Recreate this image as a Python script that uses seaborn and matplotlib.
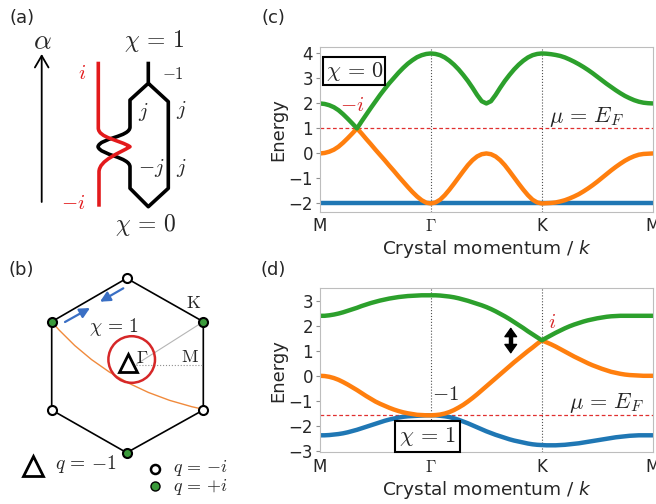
import numpy as np
import pandas as pd
import matplotlib
matplotlib.use("Agg")
import matplotlib.pyplot as plt
import seaborn as sns
from matplotlib.path import Path
from matplotlib.patches import PathPatch, Circle

# ---------------- band-structure data ----------------
k_grid = [i / 24 for i in range(73)]          # momentum path M -> Gamma -> K -> M
k_ticks = [0, 1, 2, 3]
k_tick_labels = ["M", r"$\Gamma$", "K", "M"]

# panel (c): chi = 0
blue_c_k = [0.0, 3.0]
blue_c = [-2.00, -2.00]
orange_c = [0.00, 0.02, 0.07, 0.15, 0.27, 0.43, 0.61, 0.80, 1.00,
            0.80, 0.58, 0.37, 0.15, -0.06, -0.27, -0.49, -0.70, -0.92, -1.13, -1.34, -1.54, -1.72, -1.87, -1.97, -2.00,
            -1.96, -1.85, -1.67, -1.45, -1.21, -0.96, -0.71, -0.47, -0.27, -0.12, -0.03, 0.00,
            -0.03, -0.12, -0.27, -0.47, -0.71, -0.96, -1.21, -1.45, -1.67, -1.85, -1.96, -2.00,
            -1.99, -1.98, -1.96, -1.92, -1.87, -1.80, -1.72, -1.63, -1.52, -1.40, -1.27, -1.13,
            -0.98, -0.83, -0.68, -0.54, -0.41, -0.29, -0.19, -0.11, -0.05, -0.02, -0.01, 0.00]
green_c = [2.00, 1.98, 1.93, 1.85, 1.73, 1.57, 1.39, 1.20, 1.00,
           1.28, 1.55, 1.82, 2.08, 2.34, 2.58, 2.81, 3.02, 3.23, 3.42, 3.59, 3.73, 3.85, 3.93, 3.98, 4.00,
           3.98, 3.93, 3.84, 3.71, 3.55, 3.36, 3.14, 2.90, 2.63, 2.34, 2.09, 2.00,
           2.09, 2.34, 2.63, 2.90, 3.14, 3.36, 3.55, 3.71, 3.84, 3.93, 3.98, 4.00,
           3.99, 3.97, 3.94, 3.90, 3.84, 3.76, 3.67, 3.57, 3.46, 3.34, 3.21, 3.07,
           2.93, 2.79, 2.66, 2.53, 2.41, 2.30, 2.21, 2.13, 2.07, 2.03, 2.01, 2.00]
fermi_c = 1.0

# panel (d): chi = 1
blue_d = [-2.38, -2.38, -2.37, -2.35, -2.33, -2.30, -2.26, -2.21, -2.16, -2.10, -2.04, -1.98, -1.92,
          -1.86, -1.80, -1.75, -1.71, -1.67, -1.64, -1.62, -1.61, -1.60, -1.59, -1.58, -1.58,
          -1.58, -1.60, -1.62, -1.65, -1.70, -1.76, -1.83, -1.90, -1.98, -2.06, -2.14, -2.22,
          -2.29, -2.36, -2.42, -2.48, -2.54, -2.59, -2.63, -2.67, -2.71, -2.74, -2.76, -2.77,
          -2.78, -2.78, -2.78, -2.77, -2.76, -2.74, -2.72, -2.70, -2.67, -2.64, -2.61, -2.58,
          -2.55, -2.52, -2.49, -2.46, -2.44, -2.42, -2.40, -2.39, -2.38, -2.38, -2.38, -2.38]
orange_d = [0.00, -0.01, -0.04, -0.09, -0.16, -0.25, -0.35, -0.46, -0.57, -0.69, -0.81, -0.92, -1.03,
            -1.12, -1.20, -1.28, -1.35, -1.41, -1.46, -1.50, -1.53, -1.56, -1.57, -1.58, -1.58,
            -1.57, -1.55, -1.51, -1.45, -1.37, -1.27, -1.16, -1.03, -0.89, -0.74, -0.58, -0.42,
            -0.26, -0.10, 0.06, 0.22, 0.38, 0.54, 0.69, 0.84, 0.99, 1.13, 1.28, 1.42,
            1.34, 1.26, 1.17, 1.07, 0.97, 0.87, 0.77, 0.68, 0.59, 0.50, 0.42, 0.35,
            0.28, 0.22, 0.16, 0.12, 0.08, 0.05, 0.03, 0.02, 0.01, 0.00, 0.00, 0.00]
green_d = [2.40, 2.40, 2.42, 2.45, 2.49, 2.54, 2.60, 2.66, 2.72, 2.79, 2.85, 2.91, 2.96,
           3.01, 3.05, 3.09, 3.12, 3.15, 3.17, 3.19, 3.20, 3.21, 3.22, 3.22, 3.22,
           3.22, 3.21, 3.19, 3.17, 3.14, 3.10, 3.05, 3.00, 2.94, 2.88, 2.82, 2.75,
           2.67, 2.58, 2.48, 2.38, 2.27, 2.15, 2.03, 1.91, 1.78, 1.66, 1.54, 1.42,
           1.52, 1.62, 1.72, 1.81, 1.90, 1.98, 2.05, 2.11, 2.17, 2.22, 2.26, 2.30,
           2.33, 2.36, 2.38, 2.39, 2.40, 2.40, 2.40, 2.40, 2.40, 2.40, 2.40, 2.40]
fermi_d = -1.58

band_palette = {"lower": "#1f77b4", "middle": "#ff7f0e", "upper": "#2ca02c"}

# ---------------- schematic data for panels (a) and (b), in pixel units ----------------
a_red_verts = [(98.3, 61.7), (98.3, 128.0), (98.3, 138.0), (120.0, 140.0), (130.0, 146.7),
               (120.0, 153.0), (99.0, 160.0), (99.0, 172.0), (99.0, 206.7)]
a_red_codes = [Path.MOVETO, Path.LINETO, Path.CURVE4, Path.CURVE4, Path.CURVE4,
               Path.CURVE4, Path.CURVE4, Path.CURVE4, Path.LINETO]
a_black_verts = [(148.3, 61.7), (148.3, 83.3), (130.0, 100.0), (130.0, 127.0),
                 (130.0, 137.0), (100.0, 138.0), (98.0, 146.7),
                 (100.0, 155.0), (130.0, 157.0), (130.0, 167.0),
                 (130.0, 188.3), (148.3, 206.7), (168.3, 188.3), (168.3, 101.7), (148.3, 83.3)]
a_black_codes = [Path.MOVETO, Path.LINETO, Path.LINETO, Path.LINETO,
                 Path.CURVE4, Path.CURVE4, Path.CURVE4,
                 Path.CURVE4, Path.CURVE4, Path.CURVE4,
                 Path.LINETO, Path.LINETO, Path.LINETO, Path.LINETO, Path.LINETO]

hex_x = [126.7, 203.3, 203.3, 126.7, 51.7, 51.7]
hex_y = [278.3, 321.7, 410.0, 452.7, 410.0, 321.7]
hex_kind = ["open", "green", "open", "green", "open", "green"]
gamma_pt = (128.3, 363.3)
k_pt = (203.3, 321.7)
m_pt = (203.3, 365.0)
orange_path_verts = [(51.7, 321.7), (110.0, 390.0), (203.3, 409.3)]

# ---------------- figure ----------------
sns.set_theme(style="white")
plt.rcParams["font.family"] = ["DejaVu Sans"]
plt.rcParams["mathtext.fontset"] = "cm"

W, H = 656, 504
fig = plt.figure(figsize=(W / 100, H / 100), dpi=100)
fig.patch.set_facecolor("white")

ov = fig.add_axes([0, 0, 1, 1])
ov.set_xlim(0, W)
ov.set_ylim(H, 0)
ov.axis("off")

RED = "#e31a1c"

# ---- panel (a) ----
ov.text(21.7, 18, "(a)", fontsize=13, ha="center", va="center")
ov.text(42.7, 41, r"$\alpha$", fontsize=20, ha="center", va="center")
ov.annotate("", xy=(41.7, 54), xytext=(41.7, 202),
            arrowprops=dict(arrowstyle="->,head_width=0.35,head_length=0.6", lw=1.3,
                            color="black", shrinkA=0, shrinkB=0, mutation_scale=14))
ov.add_patch(PathPatch(Path(a_black_verts, a_black_codes), fill=False, lw=2.6,
                       ec="black", joinstyle="round", capstyle="butt"))
ov.add_patch(PathPatch(Path(a_red_verts, a_red_codes), fill=False, lw=2.6,
                       ec=RED, joinstyle="round", capstyle="butt"))
ov.text(154, 41, r"$\chi\,=\,1$", fontsize=17, ha="center", va="center")
ov.text(146, 225, r"$\chi\,=\,0$", fontsize=17, ha="center", va="center")
ov.text(173, 74, r"$-1$", fontsize=12, ha="center", va="center")
ov.text(143.3, 112, r"$j$", fontsize=15, ha="center", va="center")
ov.text(181.7, 110, r"$j$", fontsize=15, ha="center", va="center")
ov.text(151.7, 168.3, r"$-j$", fontsize=15, ha="center", va="center")
ov.text(181.7, 168.3, r"$j$", fontsize=15, ha="center", va="center")
ov.text(81.7, 73, r"$i$", fontsize=15, color=RED, ha="center", va="center")
ov.text(73.3, 202.7, r"$-i$", fontsize=15, color=RED, ha="center", va="center")

# ---- panel (b) ----
ov.text(21.7, 270, "(b)", fontsize=13, ha="center", va="center")
ov.plot(hex_x + hex_x[:1], hex_y + hex_y[:1], color="black", lw=1.2, zorder=2)
ov.plot([gamma_pt[0] + 8, k_pt[0]], [gamma_pt[1] + 1, k_pt[1]], color="#b5b5b5", lw=0.8, zorder=2)
ov.plot([gamma_pt[0] + 8, m_pt[0]], [m_pt[1], m_pt[1]], color="#909090", lw=0.8, ls=":", zorder=2)
ov.add_patch(PathPatch(Path(orange_path_verts, [Path.MOVETO, Path.CURVE3, Path.CURVE3]),
                       fill=False, lw=1.0, ec="#f08a3c", zorder=2))
ov.add_patch(Circle((131.7, 359.5), 23.3, fill=False, ec="#d62728", lw=1.8, zorder=3))
ov.plot([gamma_pt[0]], [gamma_pt[1]], marker="^", ms=13, mfc="white", mec="black", mew=2, zorder=4)
ov.text(142, 358, r"$\Gamma$", fontsize=13, ha="center", va="center", zorder=3)
ov.text(190, 357, r"$\mathrm{M}$", fontsize=13, ha="center", va="center")
ov.text(193.3, 303, r"$\mathrm{K}$", fontsize=13, ha="center", va="center")
ov.text(114, 327, r"$\chi\,=\,1$", fontsize=14, ha="center", va="center")
for x, y, kind in zip(hex_x, hex_y, hex_kind):
    fc = "white" if kind == "open" else "#3a9a3a"
    ov.plot([x], [y], marker="o", ms=6.5, mfc=fc, mec="black", mew=1.5, zorder=5)
ov.annotate("", xy=(90, 308), xytext=(65, 322),
            arrowprops=dict(arrowstyle="-|>,head_width=0.25,head_length=0.5", lw=1.6,
                            color="#3a6fc4", shrinkA=0, shrinkB=0, mutation_scale=12))
ov.annotate("", xy=(100, 301.7), xytext=(123.3, 288.3),
            arrowprops=dict(arrowstyle="-|>,head_width=0.25,head_length=0.5", lw=1.6,
                            color="#3a6fc4", shrinkA=0, shrinkB=0, mutation_scale=12))
# legend of (b)
ov.plot([33.3], [466], marker="^", ms=15, mfc="white", mec="black", mew=2)
ov.text(55, 464, r"$q\,=\,{-1}$", fontsize=14, ha="left", va="center")
ov.plot([155], [469], marker="o", ms=6.5, mfc="white", mec="black", mew=1.8)
ov.text(173, 468.5, r"$q\,=\,{-i}$", fontsize=13, ha="left", va="center")
ov.plot([155], [485.5], marker="o", ms=6.5, mfc="#3a9a3a", mec="black", mew=1.0)
ov.text(173, 487, r"$q\,=\,{+i}$", fontsize=13, ha="left", va="center")

# panel letters for (c), (d)
ov.text(273, 18, "(c)", fontsize=13, ha="center", va="center")
ov.text(273, 270, "(d)", fontsize=13, ha="center", va="center")


def band_panel(rect, bands, ylim, yticks, fermi):
    ax = fig.add_axes(rect)
    frames = [pd.DataFrame({"k": kk, "E": ee, "band": name}) for name, kk, ee in bands]
    df = pd.concat(frames, ignore_index=True)
    sns.lineplot(data=df, x="k", y="E", hue="band", hue_order=["lower", "middle", "upper"],
                 palette=band_palette, lw=3.2, legend=False, estimator=None, sort=False, ax=ax)
    for kx in (1, 2):
        ax.axvline(kx, color="#505050", ls=":", lw=0.8, zorder=0)
    ax.axhline(fermi, color="#e03030", ls=(0, (3, 2)), lw=0.9, zorder=1)
    ax.set_xlim(0, 3)
    ax.set_ylim(*ylim)
    ax.set_xticks(k_ticks)
    ax.set_xticklabels(k_tick_labels)
    ax.set_yticks(yticks)
    for sp in ax.spines.values():
        sp.set_color("#bdbdbd")
        sp.set_linewidth(0.8)
    ax.tick_params(axis="y", length=3, width=0.8, color="#909090", pad=2, labelsize=12, left=True)
    ax.tick_params(axis="x", length=0, pad=4, labelsize=12)
    ax.set_ylabel("Energy", fontsize=13, labelpad=1)
    ax.set_xlabel("Crystal momentum / $k$", fontsize=13.3, labelpad=2, math_fontfamily="dejavusans")
    ax.set_facecolor("white")
    return ax


axc = band_panel([320 / W, 1 - 211.7 / H, 332.7 / W, 165 / H],
                 [("lower", blue_c_k, blue_c), ("middle", k_grid, orange_c), ("upper", k_grid, green_c)],
                 (-2.33, 4.27), [-2, -1, 0, 1, 2, 3, 4], fermi_c)
axc.text(0.29, 1.93, r"$-i$", color="#d62728", fontsize=15, ha="center", va="center")
axc.text(2.40, 1.46, r"$\mu\,=\,E_F$", fontsize=16, ha="center", va="center")
axc.text(0.31, 3.29, r"$\chi\,=\,0$", fontsize=16, ha="center", va="center",
         bbox=dict(boxstyle="square,pad=0.1", fc="white", ec="black", lw=1.5))

axd = band_panel([320 / W, 1 - 452.3 / H, 332.7 / W, 164 / H],
                 [("lower", k_grid, blue_d), ("middle", k_grid, orange_d), ("upper", k_grid, green_d)],
                 (-3.06, 3.5), [-3, -2, -1, 0, 1, 2, 3], fermi_d)
axd.text(2.09, 2.16, r"$i$", color="#d62728", fontsize=15, ha="center", va="center")
axd.text(1.13, -0.73, r"$-1$", fontsize=15, ha="center", va="center")
axd.text(2.58, -1.1, r"$\mu\,=\,E_F$", fontsize=16, ha="center", va="center")
axd.text(0.97, -2.44, r"$\chi\,=\,1$", fontsize=16, ha="center", va="center",
         bbox=dict(boxstyle="square,pad=0.18", fc="white", ec="black", lw=1.5))
# bold double-headed arrow: thin annotate heads plus a thick shaft
axd.annotate("", xy=(1.72, 0.88), xytext=(1.72, 1.94),
             arrowprops=dict(arrowstyle="<|-|>,head_length=0.42,head_width=0.3", lw=1.0,
                             color="black", shrinkA=0, shrinkB=0, mutation_scale=14))
axd.plot([1.72, 1.72], [1.15, 1.67], color="black", lw=3.2, solid_capstyle="butt")

fig.savefig("out.png", dpi=100, facecolor="white")
